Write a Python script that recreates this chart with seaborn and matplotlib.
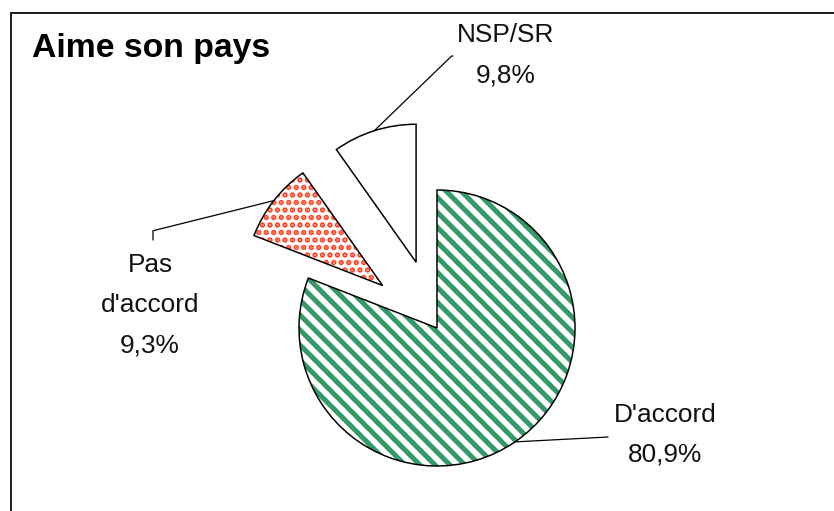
import numpy as np
import matplotlib
matplotlib.use("Agg")
import matplotlib.pyplot as plt
from matplotlib.patches import Rectangle
import seaborn as sns

# =====================
# données
# =====================
titre = "Aime son pays"
categories = ["D'accord", "Pas\nd'accord", "NSP/SR"]
valeurs = [80.9, 9.3, 9.8]
explode = [0.0, 0.5, 0.5]
hachures = ["\\\\", "..", ""]
couleurs_hachures = ["#339966", "#ff4020", "white"]
epaisseur_hachures = [4.0, 3.0, 1.0]

sns.set_theme(style="white")
plt.rcParams["font.family"] = ["Liberation Sans", "DejaVu Sans"]

W, H, DPI = 834, 511, 90
fig = plt.figure(figsize=(W / DPI, H / DPI), dpi=DPI)
ax = fig.add_axes([0, 0, 1, 1])

# centre et rayon du camembert (pixels)
cx, cy, R = 437, 328, 138

# =====================
# couche hachurée
# =====================
wedges, _ = ax.pie(valeurs, explode=explode, startangle=90, counterclock=False,
                   colors=["white"] * 3, wedgeprops=dict(linewidth=0))
for w, h, c, lw in zip(wedges, hachures, couleurs_hachures, epaisseur_hachures):
    w.set_edgecolor(c)
    w.set_hatch(h)
    if hasattr(w, "set_hatch_linewidth"):
        w.set_hatch_linewidth(lw)

# contours noirs
contours, _ = ax.pie(valeurs, explode=explode, startangle=90, counterclock=False,
                     wedgeprops=dict(fill=False, edgecolor="black", linewidth=1.2))

ax.set_aspect("auto")
ax.set_xlim(-cx / R, (W - cx) / R)
ax.set_ylim(-(H - cy) / R, cy / R)
ax.axis("off")

# =====================
# étiquettes + traits de rappel
# =====================
def ancre(w):
    mid = np.deg2rad((w.theta1 + w.theta2) / 2)
    x0, y0 = w.center
    return (x0 + w.r * np.cos(mid), y0 + w.r * np.sin(mid))

textes = [c + "\n" + f"{v:.1f}".replace(".", ",") + "%" for c, v in zip(categories, valeurs)]
pos_texte = [(665, 462), (150, 352), (506, 82)]        # centre x, ligne de base (dernière ligne)
pos_trait = [(608, 437), (153, 240), (453, 56)]
styles = ["arc3,rad=0", "angle,angleA=90,angleB=14,rad=0", "angle,angleA=180,angleB=44,rad=0"]

for w, t, (tx, ty), (lx, ly), st in zip(contours, textes, pos_texte, pos_trait, styles):
    ax.annotate("", xy=ancre(w), xycoords="data",
                xytext=(lx, H - ly), textcoords="figure pixels",
                arrowprops=dict(arrowstyle="-", color="black", lw=1.0,
                                shrinkA=0, shrinkB=0, connectionstyle=st))
    fig.text(tx / W, 1 - ty / H, t, ha="center", va="baseline",
             multialignment="center", fontsize=21, linespacing=1.85, color="#111111")

fig.text(32 / W, 1 - 57 / H, titre, ha="left", va="baseline",
         fontsize=27, fontweight="bold", color="black")

# cadre
fig.add_artist(Rectangle((11 / W, -0.1), 1.5, 1.1 - 13 / H, transform=fig.transFigure,
                         fill=False, edgecolor="#222222", linewidth=1.6))

fig.savefig("out.png", dpi=DPI)
